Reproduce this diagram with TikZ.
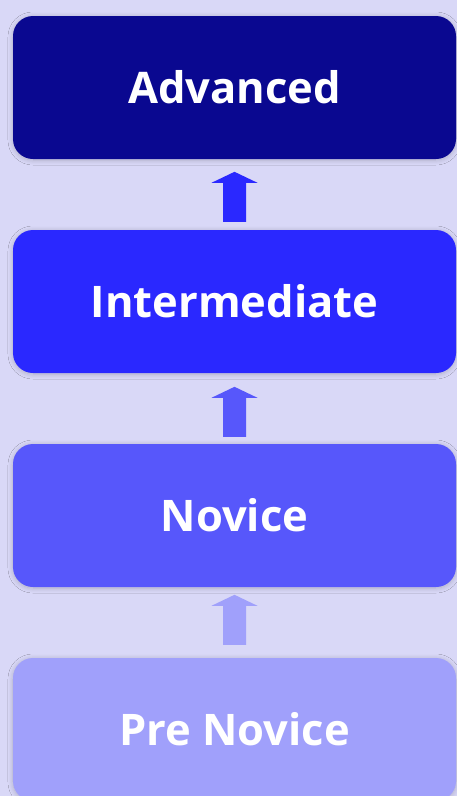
\documentclass[tikz,border=0pt]{standalone}
\usepackage{fontspec}
\setmainfont{Open Sans}
\usetikzlibrary{shadows.blur,calc}
\definecolor{bgc}{HTML}{D9D8F7}
\definecolor{cA}{HTML}{0A0890}
\definecolor{cB}{HTML}{2A28FF}
\definecolor{cC}{HTML}{5757FB}
\definecolor{cD}{HTML}{A0A0FB}
\newcommand{\uparr}[2]{\fill[#2] ($(#1)+(-11.5,0)$) -- ++(0,-39) -- ++(-11.5,0) -- ++(23,-11) -- ++(23,11) -- ++(-11.5,0) -- ++(0,39) -- cycle;}
\begin{document}
\begin{tikzpicture}[x=1pt,y=-1pt,
  level/.style={rounded corners=20pt, minimum width=443pt, minimum height=143pt,
    inner sep=0pt, text=white, font=\fontsize{43.5}{52}\selectfont\bfseries,
    blur shadow={shadow xshift=0pt, shadow yshift=-1pt, shadow blur radius=5pt, shadow opacity=20, shadow blur steps=10}}]
\fill[bgc] (0,0) rectangle (457,796);
\useasboundingbox (0,0) rectangle (457,796);
\node[level, fill=cA] (adv) at (234.5,87.5) {Advanced};
\node[level, fill=cB] (int) at (234.5,301.5) {Intermediate};
\node[level, fill=cC] (nov) at (234.5,515.5) {Novice};
\node[level, fill=cD] (pre) at (234.5,729.5) {Pre Novice};
\coordinate (a1) at ($(int.north)+(0,-8)$);
\coordinate (a2) at ($(nov.north)+(0,-7)$);
\coordinate (a3) at ($(pre.north)+(0,-13)$);
\uparr{a1}{cB}
\uparr{a2}{cC}
\uparr{a3}{cD}
\end{tikzpicture}
\end{document}
